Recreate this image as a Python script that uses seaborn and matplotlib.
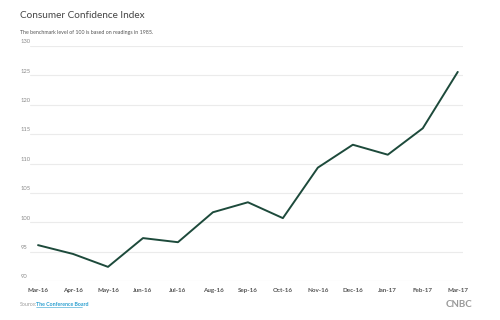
import matplotlib
matplotlib.use('Agg')
import matplotlib.pyplot as plt
import seaborn as sns
import pandas as pd

months = ['Mar-16', 'Apr-16', 'May-16', 'Jun-16', 'Jul-16', 'Aug-16', 'Sep-16',
          'Oct-16', 'Nov-16', 'Dec-16', 'Jan-17', 'Feb-17', 'Mar-17']
index_values = [96.1, 94.6, 92.4, 97.3, 96.6, 101.7, 103.4,
                100.7, 109.3, 113.2, 111.5, 116.0, 125.6]
y_ticks = [90, 95, 100, 105, 110, 115, 120, 125, 130]

df = pd.DataFrame({'month': months, 'value': index_values})
df['pos'] = range(len(df))

sns.set_style('white')
plt.rcParams['font.family'] = ['Lato', 'DejaVu Sans']

fig = plt.figure(figsize=(5, 3.2), dpi=100)
ax = fig.add_axes([0.06, 0.122, 0.866, 0.734])

sns.lineplot(data=df, x='pos', y='value', color='#1d4a3b', linewidth=1.4, ax=ax)

ax.set_xlim(-0.23, 12.15)
ax.set_ylim(90, 130)
for t in y_ticks:
    ax.axhline(t, color='#ebebeb', linewidth=0.8, zorder=0)
    ax.annotate(str(t), xy=(0, t), xycoords=('axes fraction', 'data'),
                xytext=(-6.5, 1.2), textcoords='offset points',
                fontsize=4.2, color='#8a8a8a', ha='left', va='bottom')

ax.set_yticks([])
ax.set_xticks(df['pos'])
ax.set_xticklabels(months, fontsize=4.5, color='#555555', fontweight='bold')
ax.tick_params(axis='x', length=0, pad=5)
ax.set_xlabel('')
ax.set_ylabel('')
for s in ax.spines.values():
    s.set_visible(False)

fig.text(0.04, 0.943, 'Consumer Confidence Index', fontsize=7.2, color='#444444')
fig.text(0.04, 0.895, 'The benchmark level of 100 is based on readings in 1985.',
         fontsize=3.8, color='#555555')
fig.text(0.04, 0.045, 'Source:', fontsize=3.8, color='#9a9a9a')
fig.text(0.072, 0.045, 'The Conference Board', fontsize=3.8, color='#2a9fd0',
         fontweight='bold')
fig.add_artist(plt.Line2D([0.072, 0.163], [0.041, 0.041], color='#2a9fd0', linewidth=0.4))
fig.text(0.945, 0.042, 'CNBC', fontsize=7, color='#9a9a9a', ha='right',
         fontweight='bold')

fig.savefig('out.png', dpi=100, facecolor='white')
